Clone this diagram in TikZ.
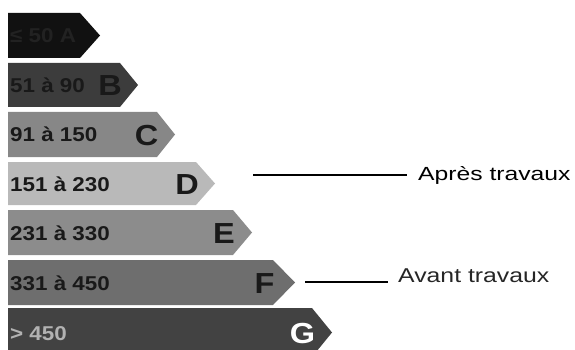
\documentclass[tikz,border=0pt]{standalone}
\usepackage{fontspec}
\setmainfont{Liberation Sans}
\newfontfamily\rangefont[FakeStretch=1.12]{Liberation Sans}
\newfontfamily\apresfont[FakeStretch=1.3]{Liberation Sans}
\newfontfamily\avantfont[FakeStretch=1.24]{Liberation Sans}
\definecolor{colA}{HTML}{111111}
\definecolor{colAtext}{HTML}{222222}
\definecolor{colB}{HTML}{3C3C3C}
\definecolor{colC}{HTML}{878787}
\definecolor{colD}{HTML}{B9B9B9}
\definecolor{colE}{HTML}{8C8C8C}
\definecolor{colF}{HTML}{6E6E6E}
\definecolor{colG}{HTML}{424242}
\newcommand{\energybar}[6]{%
  \fill[#6] (8,#2) -- (#4,#2) -- (#5,{(#2+#3)/2}) -- (#4,#3) -- (8,#3) -- cycle;
  \coordinate (tip#1) at (#5,{(#2+#3)/2});}
\begin{document}
\begin{tikzpicture}[x=1pt,y=-1pt,
  rangetxt/.style={inner sep=0pt,anchor=base west,font=\rangefont\bfseries\fontsize{20}{20}\selectfont},
  lettertxt/.style={inner sep=0pt,anchor=base,font=\rangefont\bfseries\fontsize{29}{29}\selectfont},
  leader/.style={line width=2.3pt},
  ]
\useasboundingbox (0,0) rectangle (575,350);
\energybar{A}{13}{58}{80}{100}{colA}
\energybar{B}{63}{107}{120}{138}{colB}
\energybar{C}{112}{157}{157}{175}{colC}
\energybar{D}{162}{205}{196}{215}{colD}
\energybar{E}{210}{255}{233}{252}{colE}
\energybar{F}{260}{305}{273}{295}{colF}
\energybar{G}{308}{357}{312}{332}{colG}
% bar texts
\node[rangetxt,text=colAtext] (tA) at (10,43) {≤ 50 A};
\node[rangetxt,text=black!90] (tB) at (10,93) {51 à 90};
\node[lettertxt,text=black!90] (lB) at (110,95.5) {B};
\node[rangetxt,text=black!90] (tC) at (10,142) {91 à 150};
\node[lettertxt,text=black!90] (lC) at (146.5,145) {C};
\node[rangetxt,text=black!90] (tD) at (10,191) {151 à 230};
\node[lettertxt,text=black!90] (lD) at (187,194) {D};
\node[rangetxt,text=black!90] (tE) at (10,240) {231 à 330};
\node[lettertxt,text=black!90] (lE) at (224,243) {E};
\node[rangetxt,text=black!90] (tF) at (10,290) {331 à 450};
\node[lettertxt,text=black!90] (lF) at (264.5,293) {F};
\node[rangetxt,text=black!30] (tG) at (10,340) {> 450};
\node[lettertxt,text=white] (lG) at (302.5,343) {G};
% labels
\node[inner sep=0pt,anchor=base west,font=\apresfont\fontsize{19}{19}\selectfont] (apres) at (418,180) {Après travaux};
\node[inner sep=0pt,anchor=base west,font=\avantfont\fontsize{20}{20}\selectfont,text=black!85] (avant) at (398,282) {Avant travaux};
\coordinate (apresS) at (253,175);
\coordinate (apresE) at (407,175);
\coordinate (avantS) at (305,282);
\coordinate (avantE) at (388,282);
\draw[leader] (apresS) -- (apresE);
\draw[leader] (avantS) -- (avantE);
\end{tikzpicture}
\end{document}
